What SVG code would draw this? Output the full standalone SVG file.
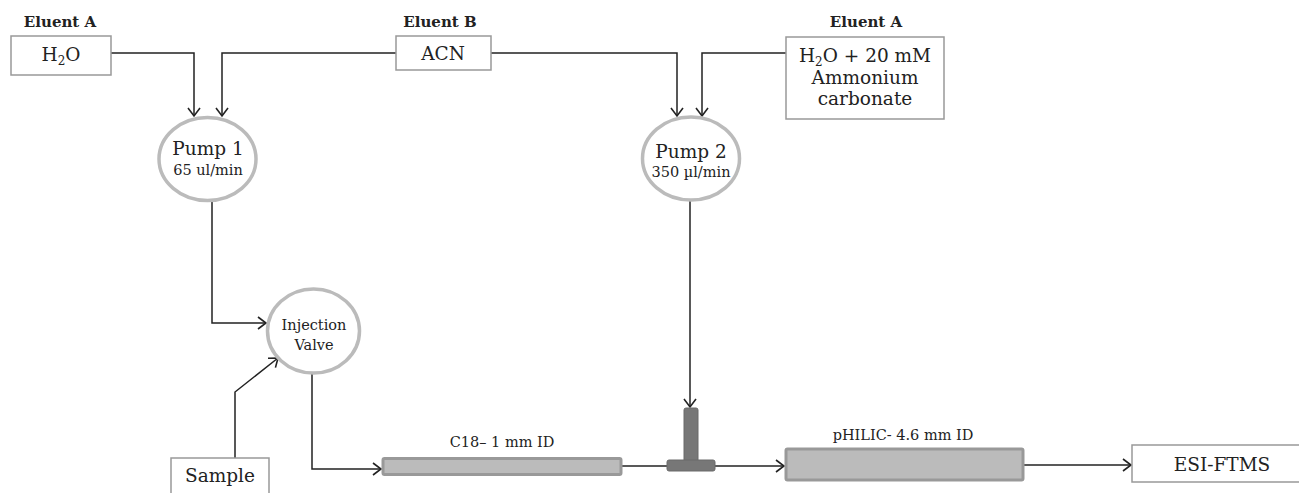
<svg xmlns="http://www.w3.org/2000/svg" width="1299" height="493" viewBox="0 0 1299 493">
<style>
text{font-family:"DejaVu Serif","Liberation Serif",serif;fill:#222;text-anchor:middle}
.lbl{font-weight:bold;font-size:15px}
.t{font-size:18.5px}
.s{font-size:14.5px}
.box{fill:#fff;stroke:#999;stroke-width:1.5}
.pump{fill:#fff;stroke:#bbb;stroke-width:3.5}
.col{fill:#bbb;stroke:#999;stroke-width:3}
.tee{fill:#777;stroke:#6a6a6a;stroke-width:1}
.c{fill:none;stroke:#222;stroke-width:1.5}
</style>
<defs>
<marker id="a" markerUnits="userSpaceOnUse" markerWidth="14" markerHeight="16" refX="9" refY="7" orient="auto" viewBox="0 0 14 16">
<path d="M1,1 L9,7 L1,13" fill="none" stroke="#222" stroke-width="1.6"/>
</marker>
</defs>
<g id="connectors">
<path class="c" d="M111,53 H194 V116" marker-end="url(#a)"/>
<path class="c" d="M396,53 H222 V116" marker-end="url(#a)"/>
<path class="c" d="M491,53 H677 V116" marker-end="url(#a)"/>
<path class="c" d="M786,53 H702 V116" marker-end="url(#a)"/>
<path class="c" d="M212,201 V323 H266" marker-end="url(#a)"/>
<path class="c" d="M235,458 V392 L278,358" marker-end="url(#a)"/>
<path class="c" d="M312,374 V469 H381" marker-end="url(#a)"/>
<path class="c" d="M690,200 V407" marker-end="url(#a)"/>
<path class="c" d="M621,466 H667"/>
<path class="c" d="M715,466 H784" marker-end="url(#a)"/>
<path class="c" d="M1023,465 H1131" marker-end="url(#a)"/>
</g>
<g id="eluentA1">
<text class="lbl" x="60" y="27">Eluent A</text>
<rect class="box" x="11" y="36" width="100" height="39"/>
<text class="t" x="61" y="61">H<tspan font-size="12" dy="4">2</tspan><tspan dy="-4">O</tspan></text>
</g>
<g id="eluentB">
<text class="lbl" x="440" y="27">Eluent B</text>
<rect class="box" x="396" y="36" width="95" height="34"/>
<text class="t" x="443" y="60">ACN</text>
</g>
<g id="eluentA2">
<text class="lbl" x="866" y="27">Eluent A</text>
<rect class="box" x="786" y="37" width="158" height="82"/>
<text class="t" x="865" y="62">H<tspan font-size="12" dy="4">2</tspan><tspan dy="-4">O + 20 mM</tspan></text>
<text class="t" x="865" y="84">Ammonium</text>
<text class="t" x="865" y="105">carbonate</text>
</g>
<g id="pump1">
<ellipse class="pump" cx="207.5" cy="159" rx="48.5" ry="41.5"/>
<text class="t" x="208" y="155">Pump 1</text>
<text class="s" x="208" y="175">65 ul/min</text>
</g>
<g id="pump2">
<ellipse class="pump" cx="691" cy="158.5" rx="48.5" ry="41.5"/>
<text class="t" x="691" y="158">Pump 2</text>
<text class="s" x="691" y="177">350 µl/min</text>
</g>
<g id="injection">
<ellipse class="pump" cx="313.5" cy="331" rx="46" ry="42"/>
<text class="s" x="314" y="330">Injection</text>
<text class="s" x="314" y="350">Valve</text>
</g>
<g id="sample">
<rect class="box" x="171" y="458" width="98" height="40"/>
<text class="t" x="220" y="482">Sample</text>
</g>
<g id="c18">
<text class="s" x="502" y="447">C18– 1 mm ID</text>
<rect class="col" x="383" y="458.5" width="238" height="16" rx="1.5"/>
</g>
<g id="tee">
<rect class="tee" x="684" y="408" width="14" height="54" rx="2"/>
<rect class="tee" x="667" y="460" width="48" height="11" rx="2"/>
</g>
<g id="phil">
<text class="s" x="903" y="440">pHILIC- 4.6 mm ID</text>
<rect class="col" x="786" y="449" width="237" height="31" rx="1.5"/>
</g>
<g id="esi">
<rect class="box" x="1132" y="445" width="170" height="37"/>
<text class="t" x="1222" y="471">ESI-FTMS</text>
</g>
</svg>
